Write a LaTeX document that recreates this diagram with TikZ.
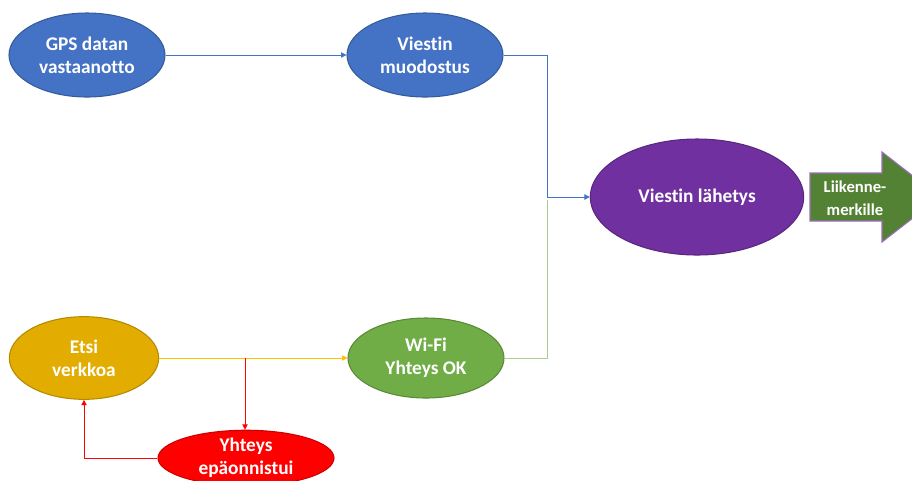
\documentclass[tikz,border=0pt]{standalone}
\usepackage{fontspec}
\setmainfont{Carlito}[Ligatures={NoCommon}]
\usetikzlibrary{shapes.geometric,arrows.meta}
\definecolor{oblue}{HTML}{4472C4}
\definecolor{opurple}{HTML}{7030A0}
\definecolor{ogreen}{HTML}{70AD47}
\definecolor{ogold}{HTML}{E2AC00}
\definecolor{ored}{HTML}{FF0000}
\definecolor{odkgreen}{HTML}{548235}
\definecolor{lblue}{HTML}{8FAADC}
\definecolor{lgreen}{HTML}{A9D18E}
\definecolor{lyellow}{HTML}{FFC000}
\definecolor{lred}{HTML}{FF5050}
\begin{document}
\begin{tikzpicture}[x=0.75pt,y=-0.75pt,
  lbl/.style={text=white,font=\bfseries\fontsize{14.5}{17}\selectfont,align=center},
  proc/.style={ellipse,draw=#1!80!black,fill=#1,line width=0.8pt,lbl,inner sep=0pt},
  conn/.style={line width=0.6pt,-{Triangle[length=4pt,width=4pt]}}]
\useasboundingbox (0,0) rectangle (912,480);
\clip (0,0) rectangle (912,480);
\node[proc=oblue,minimum width=117pt,minimum height=63pt] (gps) at (87,55) {GPS datan\\vastaanotto};
\node[proc=oblue,minimum width=117pt,minimum height=63pt] (muod) at (425,55) {Viestin\\muodostus};
\node[proc=opurple,minimum width=160pt,minimum height=87pt] (lah) at (697,197) {Viestin lähetys};
\node[proc=ogold,minimum width=112pt,minimum height=62pt] (etsi) at (84,358) {Etsi\\verkkoa};
\node[proc=ogreen,minimum width=117pt,minimum height=60pt] (wifi) at (426,358) {Wi-Fi\\Yhteys OK};
\node[proc=ored,minimum width=132pt,minimum height=40pt] (fail) at (246,458) {Yhteys\\epäonnistui};
% output arrow
\draw[draw=opurple!70,fill=odkgreen,line width=0.8pt]
  (810,173) -- (882,173) -- (882,152) -- (940,197) -- (882,242) -- (882,221) -- (810,221) -- cycle;
\node[text=white,align=center,font=\bfseries\fontsize{12.5}{17}\selectfont] (out) at (855,198) {Liikenne-\\merkille};
% connectors
\coordinate (j) at (547,197);
\draw[conn,draw=oblue,color=oblue] (gps.east) -- (muod.west);
\draw[conn,draw=lblue,color=oblue] (muod.east) -| (j) -- (lah.west);
\draw[line width=0.6pt,draw=lgreen] (wifi.east) -| ([yshift=-2]j);
\draw[conn,draw=lyellow,color=lyellow] (etsi.east) -- (wifi.west);
\coordinate (t) at (245,358);
\draw[conn,draw=lred,color=ored] (t) -- (fail.north -| t);
\draw[conn,draw=lred,color=ored] (fail.west) -| (etsi.south);
\end{tikzpicture}
\end{document}
